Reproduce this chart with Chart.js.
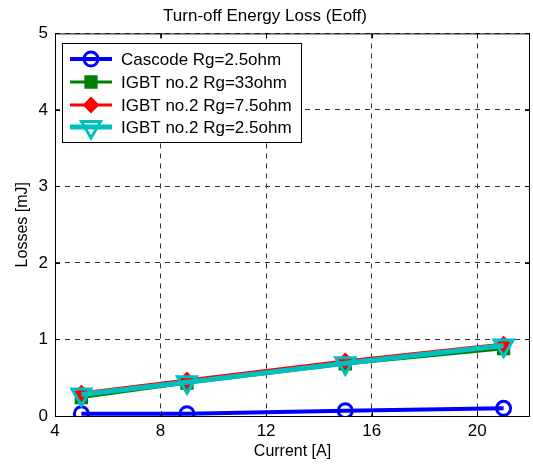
<!DOCTYPE html>
<html>
<head>
<meta charset="utf-8">
<script src="https://cdn.jsdelivr.net/npm/chart.js@4/dist/chart.umd.min.js"></script>
<style>
  html, body { margin: 0; padding: 0; background: #fff; }
  #wrap { width: 533px; height: 464px; }
</style>
</head>
<body>
<div id="wrap"><canvas id="c" width="533" height="464"></canvas></div>
<script>
const FONT = '"Liberation Sans", Arial, Helvetica, sans-serif';

const currents = [5, 9, 15, 21];
const cascode  = [0.03, 0.03, 0.07, 0.10];
const igbt33   = [0.24, 0.43, 0.68, 0.88];
const igbt75   = [0.30, 0.47, 0.72, 0.94];
const igbt25   = [0.28, 0.44, 0.69, 0.92];
const xTicks = [4, 8, 12, 16, 20];
const yTicks = [0, 1, 2, 3, 4, 5];

const pts = (ys) => currents.map((x, i) => ({ x, y: ys[i] }));

const datasets = [
  { label: 'Cascode Rg=2.5ohm', data: pts(cascode), borderColor: '#0000ff', backgroundColor: 'rgba(0,0,0,0)',
    borderWidth: 4, pointStyle: 'circle', pointRadius: 7, pointBorderWidth: 3, pointBackgroundColor: 'rgba(0,0,0,0)', order: 3 },
  { label: 'IGBT no.2 Rg=33ohm', data: pts(igbt33), borderColor: '#008000', backgroundColor: '#008000',
    borderWidth: 3, pointStyle: 'rect', pointRadius: 8, pointBorderWidth: 2, pointBackgroundColor: '#008000', order: 2 },
  { label: 'IGBT no.2 Rg=7.5ohm', data: pts(igbt75), borderColor: '#ff0000', backgroundColor: '#ff0000',
    borderWidth: 3, pointStyle: 'rectRot', pointRadius: 7, pointBorderWidth: 2, pointBackgroundColor: '#ff0000', order: 1 },
  { label: 'IGBT no.2 Rg=2.5ohm', data: pts(igbt25), borderColor: '#00bfbf', backgroundColor: 'rgba(0,0,0,0)',
    borderWidth: 5, pointStyle: 'triangle', pointRotation: 180, pointRadius: 11, pointBorderWidth: 3, pointBackgroundColor: 'rgba(0,0,0,0)', order: 0 }
];

const frame = {
  id: 'frame',
  afterDraw(chart) {
    const { ctx, chartArea: a, scales } = chart;
    ctx.save();
    ctx.strokeStyle = '#000';
    ctx.lineWidth = 1;
    ctx.setLineDash([]);
    ctx.strokeRect(a.left + 0.5, a.top + 0.5, a.right - a.left - 1, a.bottom - a.top);
    ctx.beginPath();
    xTicks.forEach(v => {
      const px = Math.round(scales.x.getPixelForValue(v)) + 0.5;
      ctx.moveTo(px, a.bottom); ctx.lineTo(px, a.bottom - 5);
      ctx.moveTo(px, a.top); ctx.lineTo(px, a.top + 5);
    });
    yTicks.forEach(v => {
      const py = Math.round(scales.y.getPixelForValue(v)) + 0.5;
      ctx.moveTo(a.left, py); ctx.lineTo(a.left + 5, py);
      ctx.moveTo(a.right, py); ctx.lineTo(a.right - 5, py);
    });
    ctx.stroke();

    // legend box, MATLAB style
    const bx = 62, by = 43, bw = 239, bh = 99;
    ctx.fillStyle = '#fff';
    ctx.fillRect(bx, by, bw, bh);
    ctx.strokeRect(bx + 0.5, by + 0.5, bw, bh);
    const rows = [59, 82, 105, 127];
    ctx.font = '17px ' + FONT;
    ctx.textBaseline = 'middle';
    chart.data.datasets.forEach((ds, i) => {
      const y = rows[i];
      ctx.strokeStyle = ds.borderColor;
      ctx.lineWidth = ds.borderWidth;
      ctx.beginPath(); ctx.moveTo(70, y); ctx.lineTo(112, y); ctx.stroke();
      ctx.fillStyle = ds.pointBackgroundColor;
      ctx.lineWidth = ds.pointBorderWidth;
      Chart.helpers.drawPoint(ctx, { pointStyle: ds.pointStyle, rotation: ds.pointRotation || 0,
        radius: ds.pointRadius, borderWidth: ds.pointBorderWidth }, 91, y);
      ctx.fillStyle = '#000';
      ctx.fillText(ds.label, 121, y + 1);
    });
    ctx.restore();
  }
};

new Chart(document.getElementById('c'), {
  type: 'line',
  data: { datasets },
  options: {
    responsive: false,
    animation: false,
    layout: { autoPadding: false, padding: { left: 0, right: 3, top: 0, bottom: 0 } },
    plugins: {
      legend: { display: false },
      tooltip: { enabled: false },
      title: {
        display: true,
        text: 'Turn-off Energy Loss (Eoff)',
        color: '#000',
        font: { family: FONT, size: 17, weight: 'normal', lineHeight: 1.2 },
        padding: { top: 6, bottom: 7 }
      }
    },
    scales: {
      x: {
        type: 'linear', min: 4, max: 22,
        afterFit: (s) => { s.height = 48; s.paddingLeft = 0; s.paddingRight = 0; },
        ticks: { stepSize: 4, includeBounds: false, color: '#000', padding: 5,
                 font: { family: FONT, size: 17 } },
        grid: { color: '#333', lineWidth: 1, drawTicks: false },
        border: { display: false, dash: [5, 5] },
        title: { display: true, text: 'Current [A]', color: '#000',
                 font: { family: FONT, size: 16 }, padding: { top: 0, bottom: 3 } }
      },
      y: {
        min: 0, max: 5,
        afterFit: (s) => { s.width = 55; },
        ticks: { stepSize: 1, color: '#000', padding: 7, font: { family: FONT, size: 17 } },
        grid: { color: '#333', lineWidth: 1, drawTicks: false },
        border: { display: false, dash: [5, 5] },
        title: { display: true, text: 'Losses [mJ]', color: '#000',
                 font: { family: FONT, size: 16 }, padding: { top: 13, bottom: 0 } }
      }
    }
  },
  plugins: [frame]
});
</script>
</body>
</html>
